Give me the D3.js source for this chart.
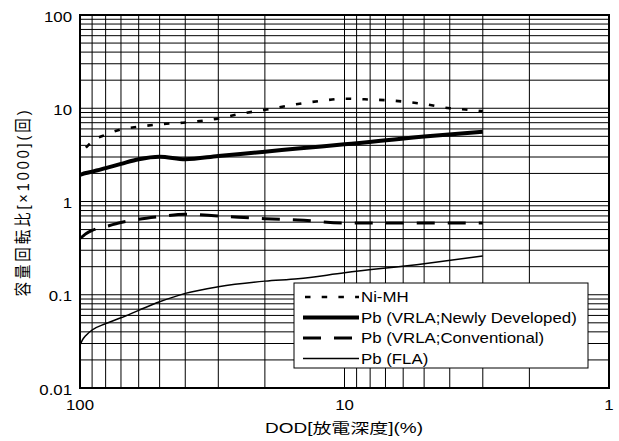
<!DOCTYPE html>
<html>
<head>
<meta charset="utf-8">
<script src="https://cdn.jsdelivr.net/npm/d3@7/dist/d3.min.js"></script>
<style>
  body { margin: 0; background: #fff; }
  text { font-family: "Liberation Sans", Arial, "Noto Sans CJK JP", sans-serif; fill: #000; }
</style>
</head>
<body>
<svg id="chart" width="619" height="441"></svg>
<script>
// Depth of discharge (%) and cycle life (x1000 cycles) per battery type
const dodNiMH    = [95, 90, 80, 70, 60, 50, 40, 30, 25, 20, 15, 12, 10, 8, 7, 6, 5, 4, 3.5, 3];
const cyclesNiMH = [3.78, 4.40, 5.2, 5.92, 6.34, 6.73, 7.03, 7.76, 8.66, 9.62, 11.1, 12.1, 12.65, 12.4, 12.2, 11.8, 11.1, 10.0, 9.7, 9.3];

const dodPb            = [100, 98, 95, 90, 80, 70, 60, 50, 40, 30, 20, 15, 10, 5, 3];
const cyclesVrlaNew    = [1.93, 1.97, 2.02, 2.09, 2.28, 2.53, 2.84, 3.02, 2.84, 3.08, 3.42, 3.70, 4.10, 4.99, 5.6];
const cyclesVrlaConv   = [0.403, 0.42, 0.45, 0.489, 0.538, 0.595, 0.644, 0.687, 0.729, 0.70, 0.654, 0.634, 0.588, 0.588, 0.588];
const cyclesFla        = [0.0289, 0.0327, 0.0366, 0.0419, 0.049, 0.0566, 0.068, 0.084, 0.1035, 0.122, 0.140, 0.1485, 0.172, 0.215, 0.26];

const seriesNames = ["Ni-MH", "Pb (VRLA;Newly Developed)", "Pb (VRLA;Conventional)", "Pb (FLA)"];

const xTickLabels = [100, 10, 1];
const yTickLabels = [0.01, 0.1, 1, 10, 100];

const xTitle = "DOD[放電深度](%)";
const yTitle = "容量回転比[×1000](回)";

const svg = d3.select("#chart");
const plot = { left: 80, right: 609, top: 15, bottom: 388 };
const stretch = 1.16;   // the lettering in this chart is set slightly wide

const x = d3.scaleLog().domain([100, 1]).range([plot.left, plot.right]);
const y = d3.scaleLog().domain([0.01, 100]).range([plot.bottom, plot.top]);

// Log grid: every integer multiple in each decade
const grid = svg.append("g").attr("stroke", "#000").attr("stroke-width", 1);
grid.selectAll("line.v").data(x.ticks()).join("line")
  .attr("class", "v")
  .attr("x1", d => x(d)).attr("x2", d => x(d))
  .attr("y1", plot.top).attr("y2", plot.bottom);
grid.selectAll("line.h").data(y.ticks()).join("line")
  .attr("class", "h")
  .attr("x1", plot.left).attr("x2", plot.right)
  .attr("y1", d => y(d)).attr("y2", d => y(d));

// Series
const styles = [
  { width: 2.6, dash: "5.5,11.2" },
  { width: 4,   dash: null },
  { width: 3,   dash: "18,13" },
  { width: 1.5, dash: null }
];
const seriesData = [
  dodNiMH.map((d, i) => [d, cyclesNiMH[i]]),
  dodPb.map((d, i) => [d, cyclesVrlaNew[i]]),
  dodPb.map((d, i) => [d, cyclesVrlaConv[i]]),
  dodPb.map((d, i) => [d, cyclesFla[i]])
];
const line = d3.line().x(d => x(d[0])).y(d => y(d[1])).curve(d3.curveMonotoneX);
seriesData.forEach((data, i) => {
  svg.append("path")
    .datum(data)
    .attr("d", line)
    .attr("fill", "none")
    .attr("stroke", "#000")
    .attr("stroke-width", styles[i].width)
    .attr("stroke-dasharray", styles[i].dash);
});

// Frame
svg.append("rect")
  .attr("x", plot.left).attr("y", plot.top)
  .attr("width", plot.right - plot.left).attr("height", plot.bottom - plot.top)
  .attr("fill", "none").attr("stroke", "#000").attr("stroke-width", 2);

function wideText(px, py, txt, anchor, size) {
  svg.append("g")
    .attr("transform", `translate(${px},${py}) scale(${stretch},1)`)
    .append("text")
    .attr("text-anchor", anchor)
    .attr("font-size", size)
    .text(txt);
}

// Tick labels
const fmt = d => String(d);
yTickLabels.forEach(v => wideText(plot.left - 8, y(v) + 6.5, fmt(v), "end", 14.5));
xTickLabels.forEach(v => wideText(x(v), 410, fmt(v), "middle", 14.5));

// Axis titles
svg.append("text")
  .attr("x", 344).attr("y", 433)
  .attr("text-anchor", "middle")
  .attr("font-size", 14)
  .attr("textLength", 158)
  .attr("lengthAdjust", "spacingAndGlyphs")
  .text(xTitle);

svg.append("g")
  .attr("transform", "translate(23,203.5) rotate(-90) scale(1,1.16)")
  .append("text")
  .attr("text-anchor", "middle")
  .attr("dy", "0.36em")
  .attr("font-size", 14.5)
  .attr("textLength", 186)
  .attr("lengthAdjust", "spacing")
  .text(yTitle);

// Legend
const legend = { x: 294, y: 283, w: 294, h: 85, row0: 297, step: 20.5, lx1: 303, lx2: 359, tx: 361 };
svg.append("rect")
  .attr("x", legend.x).attr("y", legend.y)
  .attr("width", legend.w).attr("height", legend.h)
  .attr("fill", "#fff").attr("stroke", "#000").attr("stroke-width", 1);
seriesNames.forEach((name, i) => {
  const ry = legend.row0 + i * legend.step;
  svg.append("line")
    .attr("x1", i === 0 ? 305 : legend.lx1).attr("x2", legend.lx2)
    .attr("y1", ry).attr("y2", ry)
    .attr("stroke", "#000")
    .attr("stroke-width", styles[i].width)
    .attr("stroke-dasharray", styles[i].dash);
  wideText(legend.tx, ry + 5.3, name, "start", 14.5);
});
</script>
</body>
</html>
